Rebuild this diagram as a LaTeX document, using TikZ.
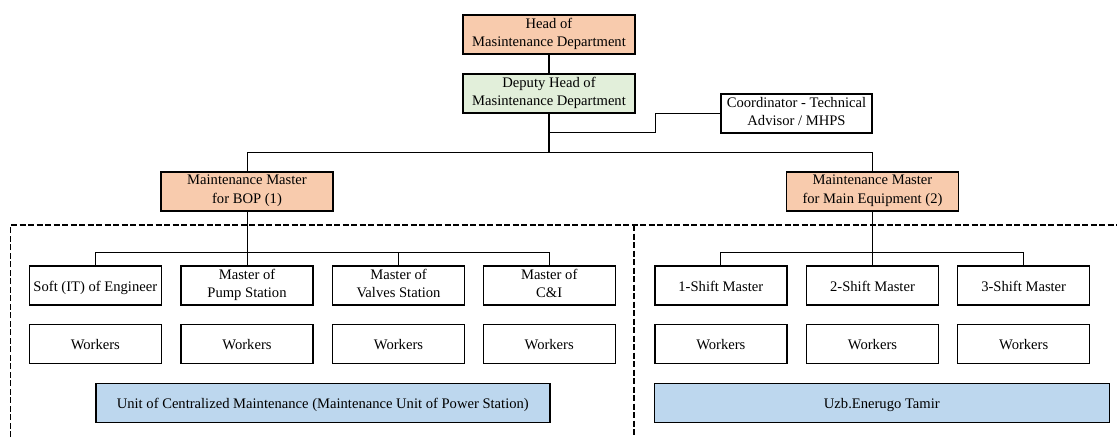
\documentclass[tikz,border=0pt]{standalone}
\usepackage{fontspec}
\setmainfont{Liberation Serif}
\begin{document}
\begin{tikzpicture}[x=1pt,y=-1pt,
  box/.style={draw=black, line width=1.4pt, inner sep=0pt, align=center,
    font=\fontsize{14.6}{18.3}\selectfont, minimum height=39pt,
    execute at begin node={\rule{0pt}{16pt}},
    execute at end node={\rule[-4.7pt]{0pt}{4.7pt}}},
  wide/.style={box, minimum width=172pt},
  unit/.style={box, minimum width=132pt},
  orange/.style={fill={rgb,255:red,248;green,203;blue,173}},
  green/.style={fill={rgb,255:red,226;green,239;blue,218}},
  blue/.style={fill={rgb,255:red,189;green,215;blue,238}},
  link/.style={draw=black, line width=0.9pt},
  trunk/.style={draw=black, line width=1.4pt},
  zone/.style={draw=black, line width=1.2pt, dash pattern=on 6pt off 2.5pt}]
\useasboundingbox (0,0) rectangle (1117,437);

% management chain
\node[wide, orange] (head) at (549,34.5) {Head of\\Masintenance Department};
\node[wide, green] (deputy) at (549,93.5) {Deputy Head of\\Masintenance Department};
\node[box, minimum width=151pt] (coord) at (796.5,113.5) {Coordinator - Technical\\Advisor / MHPS};
\node[wide, orange] (m1) at (247,191.5) {Maintenance Master\\for BOP (1)};
\node[wide, orange] (m2) at (872.5,191.5) {Maintenance Master\\for Main Equipment (2)};

% BOP units
\node[unit] (u1) at (95.3,285.5) {Soft (IT) of Engineer};
\node[unit] (u2) at (247,285.5) {Master of\\Pump Station};
\node[unit] (u3) at (398.5,285.5) {Master of\\Valves Station};
\node[unit] (u4) at (549.2,285.5) {Master of\\C\&I};
\node[unit] (w1) at (95.3,344) {Workers};
\node[unit] (w2) at (247,344) {Workers};
\node[unit] (w3) at (398.5,344) {Workers};
\node[unit] (w4) at (549.2,344) {Workers};

% main equipment shifts
\node[unit] (s1) at (720.8,285.5) {1-Shift Master};
\node[unit] (s2) at (872.5,285.5) {2-Shift Master};
\node[unit] (s3) at (1023.7,285.5) {3-Shift Master};
\node[unit] (w5) at (720.8,344) {Workers};
\node[unit] (w6) at (872.5,344) {Workers};
\node[unit] (w7) at (1023.7,344) {Workers};

% organisations
\node[box, blue, minimum width=454pt] (ucm) at (322.8,403) {Unit of Centralized Maintenance (Maintenance Unit of Power Station)};
\node[box, blue, minimum width=455pt] (uzb) at (881.8,403) {Uzb.Enerugo Tamir};

% connectors
\coordinate (bus) at (549,152.3);
\coordinate (cjoin) at (549,132.7);
\coordinate (cbend) at (655,132.7);
\draw[trunk] (head) -- (deputy);
\draw[trunk] (deputy) -- (bus);
\draw[link] (coord.west) -| (cbend) -- (cjoin);
\draw[link] (m1.north) |- (bus) -| (m2.north);

\coordinate (lbus) at (247,252.3);
\coordinate (rbus) at (872.5,252.3);
\draw[link] (m1) -- (u2);
\draw[link] (u1.north) |- (lbus) -| (u4.north);
\draw[link] (u3.north) -- (u3.north |- lbus);
\draw[link] (m2) -- (s2);
\draw[link] (s1.north) |- (rbus) -| (s3.north);

% zone boundaries
\draw[zone] (10.7,437) -- (10.7,225) -- (1117,225);
\draw[zone] (634,225) -- (634,437);
\end{tikzpicture}
\end{document}
